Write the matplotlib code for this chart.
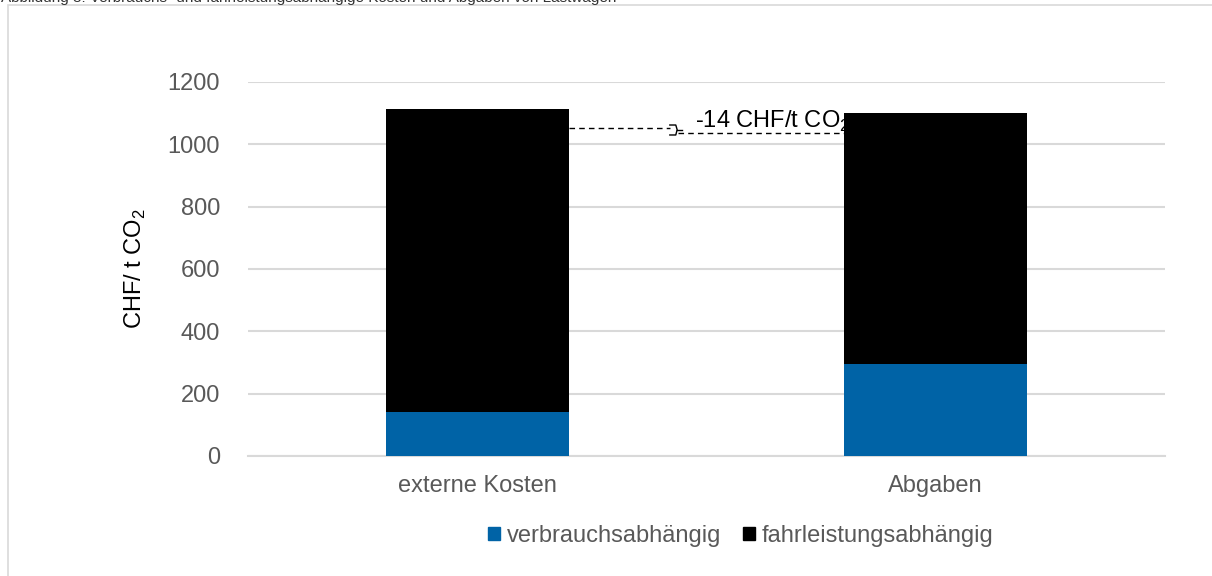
import matplotlib.pyplot as plt
from matplotlib.patches import Rectangle, Patch
import numpy as np

plt.rcParams['font.family'] = ['Liberation Sans', 'DejaVu Sans']

categories = ['externe Kosten', 'Abgaben']
verbrauch = [140, 295]
fahrleistung = [974, 805]
series_names = ['verbrauchsabhängig', 'fahrleistungsabhängig']
yticks = [0, 200, 400, 600, 800, 1000, 1200]
diff_label = '-14 CHF/t CO$_\\mathregular{2}$'

blue = '#0063a6'
grey_txt = '#595959'
grid_col = '#d9d9d9'

fig = plt.figure(figsize=(12.12, 5.76), dpi=100)
ax = fig.add_axes([248/1212, 1-456/576, 917/1212, 374/576])

# outer frame (cut off at the right and bottom like the screenshot)
fig.patches.append(Rectangle((8/1212, -0.1), 1.2, 1-5/576+0.1, transform=fig.transFigure,
                             fill=False, edgecolor=grid_col, lw=1.2))
fig.text(1/1212, 1-2/576, 'Abbildung 8: Verbrauchs- und fahrleistungsabhängige Kosten und Abgaben von Lastwagen',
         fontsize=11, va='baseline', ha='left', color='#333333')

x = np.arange(len(categories))
w = 0.4
ax.bar(x, verbrauch, w, color=blue, zorder=3, label=series_names[0])
ax.bar(x, fahrleistung, w, bottom=verbrauch, color='black', zorder=3, label=series_names[1])

ax.set_xlim(-0.5, 1.5)
ax.set_ylim(0, 1200)
ax.set_yticks(yticks)
ax.set_xticks(x)
ax.set_xticklabels(categories)
ax.tick_params(axis='both', length=0, labelsize=17, colors=grey_txt)
ax.tick_params(axis='y', pad=20)
ax.tick_params(axis='x', pad=14)
ax.yaxis.grid(True, color=grid_col, lw=1.5)
ax.set_axisbelow(True)
for s in ['top', 'right', 'left']:
    ax.spines[s].set_visible(False)
ax.spines['bottom'].set_color(grid_col)
ax.spines['bottom'].set_linewidth(1.5)

ax.set_ylabel('CHF/ t CO$_\\mathregular{2}$', fontsize=17, labelpad=14)

# difference annotation
y1 = 1052
y2 = 1036
ax.plot([0 + w/2, 0.42], [y1, y1], color='black', lw=1, ls=(0, (4, 3)), zorder=2)
ax.plot([0.438, 1 - w/2], [y2, y2], color='black', lw=1, ls=(0, (4, 3)), zorder=2)
ax.plot([0.42, 0.433, 0.436, 0.433, 0.42], [1062, 1062, 1047, 1030, 1030], color='black', lw=1, zorder=2)
ax.plot([0.436, 0.447], [1047, 1047], color='black', lw=1, zorder=2)
ax.text(0.474, 1072, diff_label, fontsize=17, va='center', ha='left', zorder=2)

handles = [Patch(color=blue), Patch(color='black')]
fig.legend(handles, series_names, loc='center', bbox_to_anchor=(741/1212, 1-536/576),
           ncol=2, frameon=False, fontsize=17, handlelength=0.5, handleheight=0.5,
           handletextpad=0.3, columnspacing=0.9, labelcolor=grey_txt)

fig.savefig('out.png', dpi=100)
